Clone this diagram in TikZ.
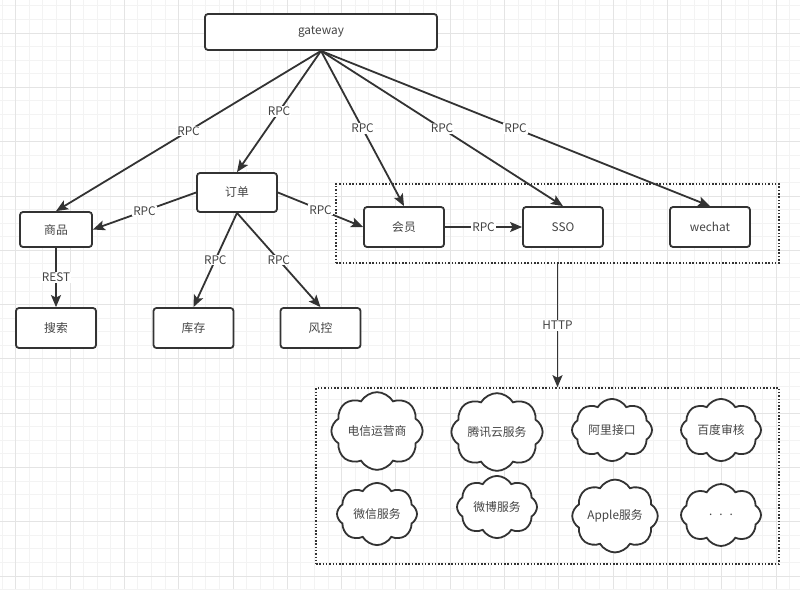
\documentclass[tikz,border=0pt]{standalone}
\usepackage{fontspec}
\setmainfont{Noto Sans CJK SC}
\usetikzlibrary{shapes.symbols,arrows.meta}
\definecolor{ln}{HTML}{333333}
\definecolor{tx}{HTML}{444444}
\definecolor{gmin}{HTML}{F3F3F3}
\definecolor{gmaj}{HTML}{E4E4E4}
\tikzset{
  txt/.style={text=tx, font=\fontsize{11.8}{14}\selectfont},
  box/.style={txt, draw=ln, line width=1.8pt, rounded corners=3pt, fill=white, minimum width=80pt, minimum height=40pt, inner sep=0pt},
  conn/.style={draw=ln, line width=1.8pt, -{Stealth[length=12pt,width=10pt,inset=2.5pt]}},
  lbl/.style={txt, fill=white, inner sep=1pt},
  cl/.style={txt, cloud, cloud puffs=8, cloud puff arc=120, draw=ln, line width=1.8pt, fill=white, minimum width=80pt, minimum height=62pt, inner sep=0pt, aspect=1.3},
  grp/.style={draw=ln, line width=1.6pt, dash pattern=on 1.5pt off 1.8pt, minimum width=#1, inner sep=0pt},
}
\begin{document}
\begin{tikzpicture}[x=1pt,y=-1pt]
\useasboundingbox (0,0) rectangle (800,589);
\fill[white] (0,0) rectangle (800,589);
% grid
\foreach \i in {-2,...,60} {
  \pgfmathsetmacro\gx{15.7+\i*13.575}
  \pgfmathsetmacro\gy{33+\i*13.575}
  \draw[gmin, line width=0.8pt] (\gx,0) -- (\gx,589);
  \draw[gmin, line width=0.8pt] (0,\gy) -- (800,\gy);
}
\foreach \i in {-1,...,15} {
  \pgfmathsetmacro\gx{15.7+\i*54.3}
  \pgfmathsetmacro\gy{33+\i*54.3}
  \draw[gmaj, line width=0.8pt] (\gx,0) -- (\gx,589);
  \draw[gmaj, line width=0.8pt] (0,\gy) -- (800,\gy);
}
% groups
\node[grp=443pt, minimum height=79pt] (g1) at (557.5,223.5) {};
\node[grp=463pt, minimum height=176pt] (g2) at (547.5,476) {};
% boxes
\node[box, minimum width=232pt, minimum height=36pt] (gw) at (321,32) {gateway};
\node[box, minimum width=72pt, minimum height=35pt] (sp) at (56,229.5) {商品};
\node[box] (ss) at (56,328) {搜索};
\node[box] (kc) at (193.5,328) {库存};
\node[box] (fk) at (320.5,328) {风控};
\node[box, minimum height=39pt] (dd) at (237,192.5) {订单};
\node[box] (hy) at (404,227) {会员};
\node[box] (sso) at (563,227) {SSO};
\node[box] (wc) at (710,227) {wechat};
% clouds
\node[cl] (c1) at (377,431) {电信运营商};
\node[cl] (c2) at (497,432) {腾讯云服务};
\node[cl] (c3) at (612,430) {阿里接口};
\node[cl] (c4) at (721,430) {百度审核};
\node[cl] (c5) at (377,514) {微信服务};
\node[cl] (c6) at (497,507) {微博服务};
\node[cl] (c7) at (615,516) {Apple服务};
\node[cl] (c8) at (721,515) {.\hspace{7pt}.\hspace{7pt}.};
% connectors
\draw[conn] (gw.south) -- node[lbl] {RPC} (sp.north);
\draw[conn] (gw.south) -- node[lbl] {RPC} (dd.north);
\draw[conn] (gw.south) -- node[lbl] {RPC} (hy.north);
\draw[conn] (gw.south) -- node[lbl] {RPC} (sso.north);
\draw[conn] (gw.south) -- node[lbl] {RPC} (wc.north);
\draw[conn] (dd.west) -- node[lbl] {RPC} (sp.east);
\draw[conn] (dd.east) -- node[lbl] {RPC} (hy.west);
\draw[conn] (dd.south) -- node[lbl] {RPC} (kc.north);
\draw[conn] (dd.south) -- node[lbl] {RPC} (fk.north);
\draw[conn] (sp.south) -- node[lbl] {REST} (ss.north);
\draw[conn] (hy.east) -- node[lbl] {RPC} (sso.west);
\draw[conn] (g1.south) -- node[lbl] {HTTP} (g1.south |- g2.north);
\end{tikzpicture}
\end{document}
